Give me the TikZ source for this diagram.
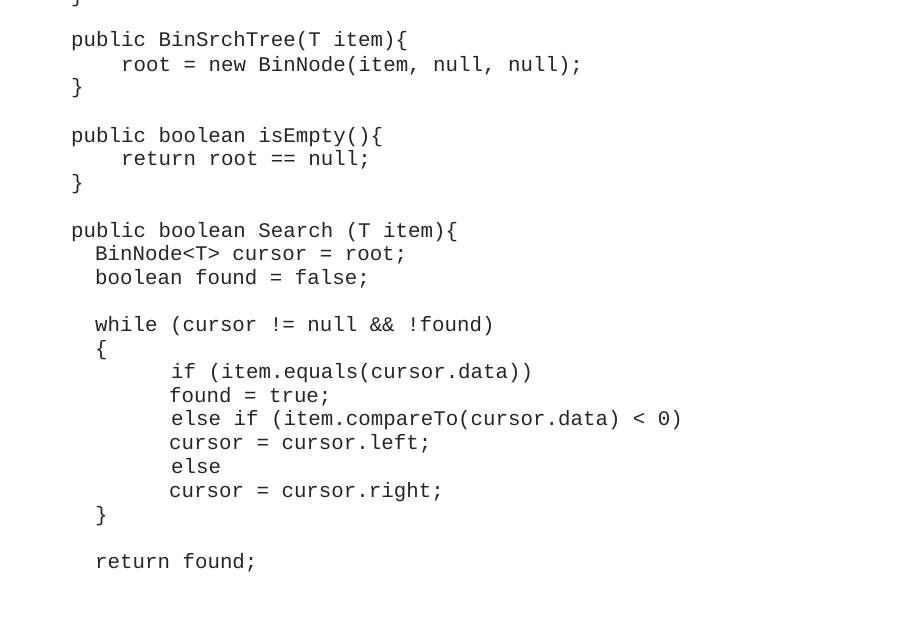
\documentclass[tikz,border=0pt]{standalone}
\usepackage{fontspec}
\setmonofont{Liberation Mono}
\usetikzlibrary{positioning}

\begin{document}
\begin{tikzpicture}[
      , x=1pt, y=-1pt
      , codeline/.style={anchor=base west, inner sep=0pt, font=\fontsize{20.8}{24}\ttfamily, text=black!85}
      ]

      \useasboundingbox (0,0) rectangle (916,642);

      \node[codeline] (close0) at (71,3) {\}};

      % constructor
      \node[codeline] (ctor) at (71,47) {public BinSrchTree(T item)\{};
      \node[codeline] (ctor-body) at (121,71) {root = new BinNode(item, null, null);};
      \node[codeline] (ctor-end) at (71,94) {\}};

      % isEmpty
      \node[codeline] (empty) at (71,142) {public boolean isEmpty()\{};
      \node[codeline] (empty-body) at (121,165) {return root == null;};
      \node[codeline] (empty-end) at (71,189) {\}};

      % Search
      \node[codeline] (search) at (71,237) {public boolean Search (T item)\{};
      \node[codeline] (cursor-init) at (95,260) {BinNode<T> cursor = root;};
      \node[codeline] (found-init) at (95,284) {boolean found = false;};
      \node[codeline] (loop) at (95,331) {while (cursor != null \&\& !found)};
      \node[codeline] (loop-open) at (95,355) {\{};
      \node[codeline] (test-eq) at (171,378) {if (item.equals(cursor.data))};
      \node[codeline] (set-found) at (169,402) {found = true;};
      \node[codeline] (test-lt) at (171,425) {else if (item.compareTo(cursor.data) < 0)};
      \node[codeline] (go-left) at (169,449) {cursor = cursor.left;};
      \node[codeline] (else) at (171,473) {else};
      \node[codeline] (go-right) at (169,497) {cursor = cursor.right;};
      \node[codeline] (loop-close) at (95,521) {\}};
      \node[codeline] (ret) at (95,568) {return found;};
    \end{tikzpicture}
\end{document}
